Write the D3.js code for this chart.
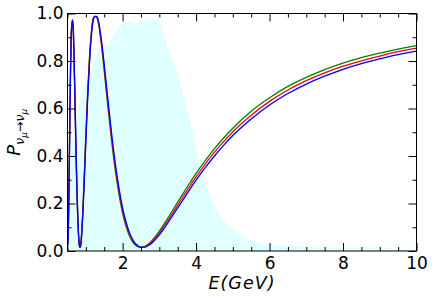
<!DOCTYPE html>
<html>
<head>
<meta charset="utf-8">
<script src="https://cdn.jsdelivr.net/npm/d3@7"></script>
<style>
body { margin: 0; background: #fff; }
svg text { font-family: "DejaVu Sans", sans-serif; }
</style>
</head>
<body>
<svg id="chart"></svg>
<script>
const width = 436;
const height = 300;
const margin = {top: 13.5, right: 19.5, bottom: 49, left: 67.5};

// neutrino energy grid (GeV)
const energy = [0.50, 0.52, 0.54, 0.56, 0.58, 0.60, 0.62, 0.64, 0.66, 0.68, 0.70, 0.72, 0.74, 0.76, 0.78, 0.80, 0.82, 0.84, 0.86, 0.88, 0.90,
    0.93, 0.96, 1.00, 1.05, 1.10, 1.15, 1.20, 1.25, 1.30, 1.35, 1.40, 1.45, 1.50, 1.60, 1.70, 1.80, 1.90, 2.00, 2.10, 2.20, 2.30, 2.40,
    2.50, 2.60, 2.70, 2.80, 2.90, 3.00, 3.20, 3.40, 3.60, 3.80, 4.00, 4.25, 4.50, 4.75, 5.00, 5.50, 6.00, 6.50, 7.00, 7.50, 8.00, 8.50,
    9.00, 9.50, 10.00];

// survival probability, three parameter sets
const probGreen = [0.017, 0.079, 0.276, 0.524, 0.753, 0.916, 0.957, 0.970, 0.913, 0.791, 0.644, 0.491, 0.348, 0.225, 0.128, 0.061, 0.024, 0.015, 0.030, 0.066, 0.119,
    0.219, 0.335, 0.493, 0.675, 0.821, 0.923, 0.981, 0.988, 0.982, 0.951, 0.897, 0.831, 0.758, 0.607, 0.464, 0.340, 0.239, 0.159, 0.100, 0.059, 0.032, 0.019,
    0.015, 0.019, 0.029, 0.044, 0.063, 0.084, 0.131, 0.181, 0.231, 0.280, 0.327, 0.381, 0.431, 0.476, 0.517, 0.588, 0.645, 0.693, 0.731, 0.764, 0.791, 0.814,
    0.833, 0.850, 0.865];
const probRed = [0.019, 0.072, 0.262, 0.508, 0.739, 0.906, 0.955, 0.972, 0.922, 0.804, 0.659, 0.507, 0.363, 0.238, 0.139, 0.068, 0.028, 0.015, 0.027, 0.060, 0.109,
    0.206, 0.320, 0.477, 0.660, 0.808, 0.914, 0.976, 0.988, 0.985, 0.957, 0.906, 0.842, 0.771, 0.622, 0.480, 0.355, 0.252, 0.170, 0.109, 0.066, 0.037, 0.021,
    0.015, 0.017, 0.026, 0.039, 0.056, 0.076, 0.121, 0.169, 0.218, 0.266, 0.312, 0.366, 0.416, 0.460, 0.502, 0.572, 0.630, 0.678, 0.717, 0.750, 0.778, 0.801,
    0.821, 0.839, 0.854];
const probBlue = [0.021, 0.065, 0.248, 0.492, 0.725, 0.897, 0.952, 0.973, 0.930, 0.816, 0.674, 0.523, 0.378, 0.251, 0.149, 0.076, 0.031, 0.015, 0.024, 0.053, 0.100,
    0.194, 0.306, 0.461, 0.645, 0.796, 0.905, 0.971, 0.988, 0.988, 0.964, 0.915, 0.854, 0.785, 0.638, 0.496, 0.370, 0.266, 0.182, 0.119, 0.072, 0.042, 0.024,
    0.016, 0.016, 0.023, 0.034, 0.050, 0.068, 0.111, 0.158, 0.205, 0.252, 0.298, 0.351, 0.400, 0.445, 0.486, 0.556, 0.615, 0.663, 0.703, 0.736, 0.765, 0.789,
    0.809, 0.827, 0.842];

// beam flux shape (arbitrary units, scaled to the axis)
const fluxEnergy = [0.5, 0.6, 0.7, 0.8, 0.9, 1.0, 1.2, 1.3, 1.4, 1.6, 1.8, 2.0, 2.2, 2.35, 2.5, 2.7, 2.9, 3.0, 3.1, 3.3, 3.5, 3.7, 3.9, 4.1,
    4.3, 4.5, 4.75, 5.0, 5.25, 5.5, 5.75, 6.0, 6.5, 7.0, 8.0, 9.0, 10.0];
const fluxShape = [0.38, 0.46, 0.53, 0.61, 0.67, 0.71, 0.79, 0.83, 0.845, 0.87, 0.92, 0.955, 0.965, 0.958, 0.968, 0.977, 0.98, 0.965, 0.92, 0.82, 0.74, 0.63, 0.51, 0.37,
    0.265, 0.19, 0.13, 0.09, 0.062, 0.045, 0.034, 0.027, 0.022, 0.018, 0.013, 0.01, 0.007];

const xMajor = [2, 4, 6, 8, 10];
const xMinor = [0.5, 1, 1.5, 2.5, 3, 3.5, 4.5, 5, 5.5, 6.5, 7, 7.5, 8.5, 9, 9.5];
const yMajor = [0, 0.2, 0.4, 0.6, 0.8, 1.0];
const yMinor = [0.1, 0.3, 0.5, 0.7, 0.9];

const svg = d3.select("#chart")
    .attr("width", width)
    .attr("height", height);

const x = d3.scaleLinear().domain([0.5, 10]).range([margin.left, width - margin.right]);
const y = d3.scaleLinear().domain([0, 1]).range([height - margin.bottom, margin.top]);

svg.append("clipPath").attr("id", "clip")
    .append("rect")
    .attr("x", margin.left).attr("y", margin.top)
    .attr("width", width - margin.left - margin.right)
    .attr("height", height - margin.top - margin.bottom);

const plot = svg.append("g").attr("clip-path", "url(#clip)");

const area = d3.area()
    .x((d, i) => x(fluxEnergy[i]))
    .y0(y(0))
    .y1(d => y(d))
    .curve(d3.curveMonotoneX);

plot.append("path")
    .datum(fluxShape)
    .attr("fill", "#e0ffff")
    .attr("d", area);

const line = d3.line()
    .x((d, i) => x(energy[i]))
    .y(d => y(d))
    .curve(d3.curveMonotoneX);

[[probGreen, "#008000"], [probRed, "#ff0000"], [probBlue, "#0000ff"]].forEach(([vals, color]) => {
    plot.append("path")
        .datum(vals)
        .attr("fill", "none")
        .attr("stroke", color)
        .attr("stroke-width", 1.3)
        .attr("d", line);
});

// axes, ticks pointing inward on all four sides
const addAxis = (axis, transform, values, size, labels) => {
    const g = svg.append("g")
        .attr("transform", transform)
        .call(axis.tickValues(values).tickSize(-size).tickSizeOuter(0)
            .tickFormat(labels ? labels : () => ""));
    g.select(".domain").remove();
    g.selectAll(".tick line").attr("stroke", "#000").attr("stroke-width", 1);
    g.selectAll("text").attr("fill", "#000").style("font-size", "17px");
    return g;
};

const innerW = width - margin.left - margin.right;
const innerH = height - margin.top - margin.bottom;

addAxis(d3.axisBottom(x).tickPadding(6), `translate(0,${y(0)})`, xMajor, 8, d3.format("d"));
addAxis(d3.axisBottom(x), `translate(0,${y(0)})`, xMinor, 4, null);
addAxis(d3.axisTop(x), `translate(0,${y(1)})`, xMajor, 8, null);
addAxis(d3.axisTop(x), `translate(0,${y(1)})`, xMinor, 4, null);
addAxis(d3.axisLeft(y).tickPadding(4), `translate(${x(0.5)},0)`, yMajor, 8, d3.format(".1f"));
addAxis(d3.axisLeft(y), `translate(${x(0.5)},0)`, yMinor, 4, null);
addAxis(d3.axisRight(y), `translate(${x(10)},0)`, yMajor, 8, null);
addAxis(d3.axisRight(y), `translate(${x(10)},0)`, yMinor, 4, null);

svg.append("rect")
    .attr("x", margin.left).attr("y", margin.top)
    .attr("width", innerW).attr("height", innerH)
    .attr("fill", "none")
    .attr("stroke", "#000")
    .attr("stroke-width", 1);

// axis titles
svg.append("text")
    .attr("x", margin.left + innerW / 2)
    .attr("y", 289)
    .attr("text-anchor", "middle")
    .style("font-size", "17.5px")
    .style("letter-spacing", "1px")
    .style("font-style", "italic")
    .text("E(GeV)");

const ylab = svg.append("text")
    .attr("transform", `translate(20,${margin.top + innerH / 2}) rotate(-90)`)
    .attr("text-anchor", "middle")
    .style("font-size", "18px");
ylab.append("tspan").style("font-style", "italic").text("P");
ylab.append("tspan").attr("dy", 4).style("font-size", "12.5px").style("font-style", "italic").text("ν");
ylab.append("tspan").attr("dy", 2.5).style("font-size", "9px").style("font-style", "italic").text("μ");
ylab.append("tspan").attr("dy", -2.5).style("font-size", "12.5px").text("→");
ylab.append("tspan").style("font-size", "12.5px").style("font-style", "italic").text("ν");
ylab.append("tspan").attr("dy", 2.5).style("font-size", "9px").style("font-style", "italic").text("μ");
</script>
</body>
</html>
